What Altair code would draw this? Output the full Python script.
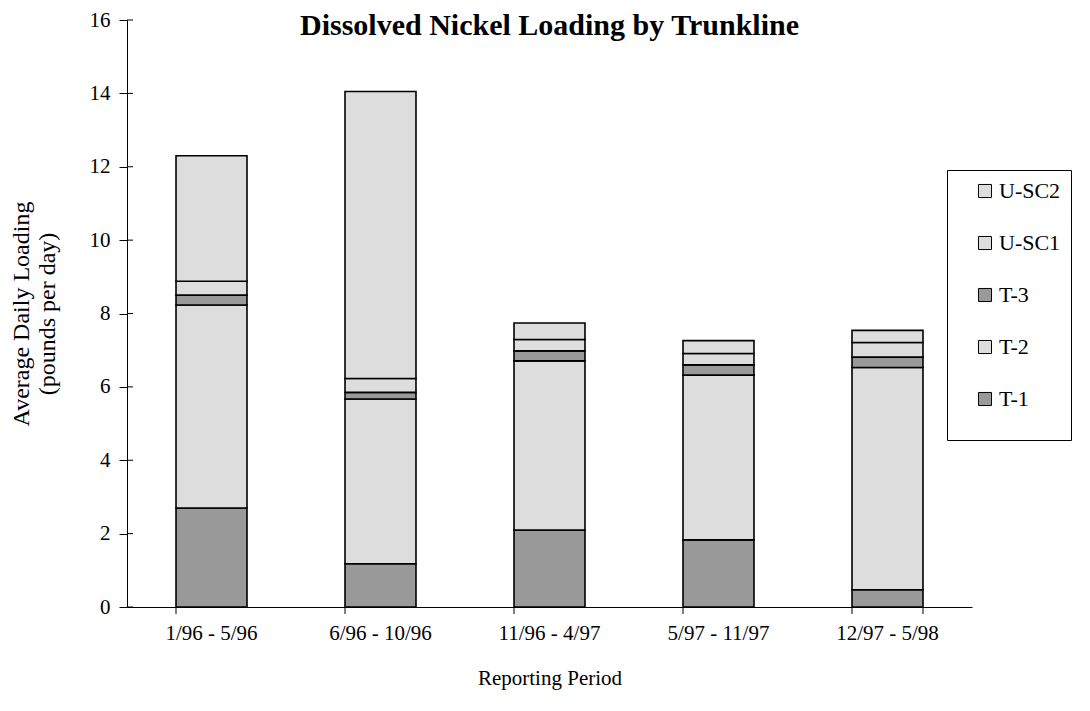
import altair as alt
import pandas as pd

periods = ["1/96 - 5/96", "6/96 - 10/96", "11/96 - 4/97", "5/97 - 11/97", "12/97 - 5/98"]
series = ["T-1", "T-2", "T-3", "U-SC1", "U-SC2"]
t1 = [2.70, 1.18, 2.10, 1.83, 0.47]
t2 = [5.53, 4.49, 4.61, 4.49, 6.06]
t3 = [0.27, 0.18, 0.27, 0.28, 0.28]
usc1 = [0.38, 0.38, 0.31, 0.31, 0.40]
usc2 = [3.42, 7.82, 0.45, 0.35, 0.33]
y_ticks = [0, 2, 4, 6, 8, 10, 12, 14, 16]
colors = {"T-1": "#999999", "T-2": "#dddddd", "T-3": "#999999", "U-SC1": "#dddddd", "U-SC2": "#dddddd"}

rows = []
for name, vals in zip(series, [t1, t2, t3, usc1, usc2]):
    for p, v in zip(periods, vals):
        rows.append({"period": p, "series": name, "value": v, "order": series.index(name)})
df = pd.DataFrame(rows)

FONT = "Liberation Serif"
legend_order = list(reversed(series))
pad = "\u00a0" * 20
yscale = alt.Scale(domain=[0, 16], nice=False)
H = 587

xenc = alt.X("period:N", sort=periods,
             scale=alt.Scale(paddingInner=0.58, paddingOuter=0.29),
             axis=alt.Axis(title="Reporting Period", labelAngle=0, ticks=False,
                           labelPadding=15, titlePadding=24, domainColor="black",
                           labelFont=FONT, titleFont=FONT, labelFontSize=21,
                           titleFontSize=21, labelColor="black", titleColor="black",
                           titleFontWeight="normal"))

bars = alt.Chart(df).mark_bar(stroke="black", strokeWidth=1.6).encode(
    x=xenc,
    y=alt.Y("value:Q", stack="zero", scale=yscale,
            axis=alt.Axis(title=["Average Daily Loading", "(pounds per day)"],
                          values=y_ticks, grid=False, tickSize=8,
                          tickColor="black", domainColor="black", labelPadding=9,
                          labelFont=FONT, titleFont=FONT, labelFontSize=21,
                          titleFontSize=24, labelColor="black", titleColor="black",
                          titleFontWeight="normal", titlePadding=30, titleLineHeight=26)),
    color=alt.Color("series:N",
                    scale=alt.Scale(domain=legend_order,
                                    range=[colors[s] for s in legend_order]),
                    sort=legend_order,
                    legend=alt.Legend(title="\u00a0", titleOrient="bottom", titleFontSize=14,
                                      titlePadding=6,
                                      orient="none", legendX=820, legendY=150,
                                      labelFont=FONT, labelFontSize=22, labelColor="black",
                                      symbolType="square", symbolSize=170,
                                      symbolStrokeColor="black", symbolStrokeWidth=1,
                                      symbolOffset=17,
                                      rowPadding=30, padding=10, strokeColor="black",
                                      fillColor="white", labelOffset=3, labelLimit=400,
                                      labelExpr="datum.label + '" + pad + "'")),
    order=alt.Order("order:Q", sort="ascending"),
)

yticks_in = alt.Chart(pd.DataFrame({"tick": y_ticks})).mark_rule(color="black", strokeWidth=1).encode(
    y=alt.Y("tick:Q", scale=yscale), x=alt.value(0), x2=alt.value(6))

xticks0 = alt.Chart(pd.DataFrame({"period": periods})).mark_rule(color="black", strokeWidth=1).encode(
    x=alt.X("period:N", sort=periods, bandPosition=0),
    y=alt.value(H), y2=alt.value(H + 7))
xticks1 = alt.Chart(pd.DataFrame({"period": periods[-1:]})).mark_rule(color="black", strokeWidth=1).encode(
    x=alt.X("period:N", sort=periods, bandPosition=1),
    y=alt.value(H), y2=alt.value(H + 7))

chart = alt.layer(bars, yticks_in, xticks0, xticks1).properties(
    width=845, height=H,
    title=alt.TitleParams("Dissolved Nickel Loading by Trunkline", font=FONT, fontSize=30,
                          fontWeight="bold", color="black", anchor="middle", offset=-32),
    autosize=alt.AutoSizeParams(type="none"),
    padding={"left": 119, "top": 12, "right": 110, "bottom": 88},
).configure_view(stroke=None).configure_axis(domainWidth=1, tickWidth=1)

chart.save("out.html", embed_options={"renderer": "svg", "actions": False})
